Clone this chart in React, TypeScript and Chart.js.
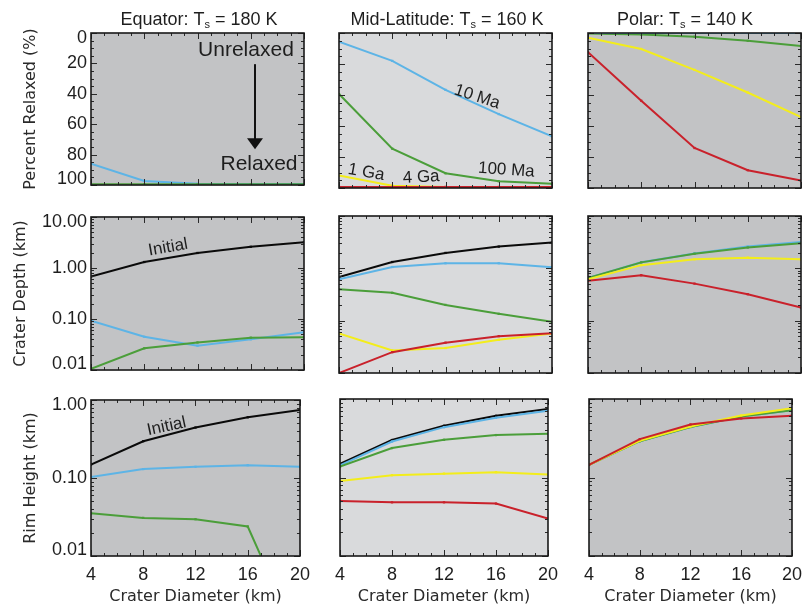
import React, { useEffect, useRef } from "react";
import { Chart, registerables } from "chart.js";

Chart.register(...registerables);

// ---------------- data ----------------
const diameters = [4, 8, 12, 16, 20];
const diameterTicks = [4, 8, 12, 16, 20];
const percentTicks = [0, 20, 40, 60, 80, 100];
const depthTicks = [0.01, 0.1, 1, 10];
const rimTicks = [0.01, 0.1, 1];

const columnNames = ["Equator", "Mid-Latitude", "Polar"];
const surfaceTemps = [180, 160, 140];
const rowTitles = ["Percent Relaxed (%)", "Crater Depth (km)", "Rim Height (km)"];
const xTitle = "Crater Diameter (km)";

// Percent relaxed
const eqPctBlue = [86, 97.3, 99.2, 99.4, 99.4];
const eqPctGreen = [99.5, 99.5, 99.5, 99.5, 99.5];
const eqPctYellow = [100, 100, 100, 100, 100];
const eqPctRed = [100, 100, 100, 100, 100];

const mlPctBlue = [5.6, 18, 36.7, 52.3, 66.7];
const mlPctGreen = [39.4, 74.6, 90.5, 95.6, 97.3];
const mlPctYellow = [92, 98.5, 99.4, 99.4, 99.4];
const mlPctRed = [99.3, 99.3, 99.3, 99.3, 99.3];

const plPctBlue = [0, 0, 0, 0, 0];
const plPctGreen = [0.3, 1, 2.4, 5, 8.4];
const plPctYellow = [3, 10.3, 23.8, 38.4, 54.2];
const plPctRed = [12.4, 43.7, 74.2, 88.5, 95.2];

// Crater depth (km)
const eqDepthBlack = [0.68, 1.31, 1.97, 2.6, 3.19];
const eqDepthBlue = [0.093, 0.045, 0.03, 0.04, 0.055];
const eqDepthGreen = [0.0105, 0.0266, 0.0347, 0.043, 0.0437];

const mlDepthBlack = [0.68, 1.32, 1.97, 2.6, 3.1];
const mlDepthBlue = [0.62, 1.06, 1.25, 1.25, 1.05];
const mlDepthGreen = [0.4, 0.34, 0.2, 0.135, 0.095];
const mlDepthYellow = [0.057, 0.027, 0.03, 0.043, 0.057];
const mlDepthRed = [0.01, 0.025, 0.038, 0.0506, 0.0575];

const plDepthBlue = [0.65, 1.31, 1.93, 2.6, 3.2];
const plDepthGreen = [0.65, 1.3, 1.9, 2.5, 3.0];
const plDepthYellow = [0.62, 1.15, 1.49, 1.6, 1.49];
const plDepthRed = [0.58, 0.74, 0.51, 0.32, 0.178];

// Rim height (km)
const eqRimBlack = [0.148, 0.296, 0.443, 0.6, 0.745];
const eqRimBlue = [0.103, 0.13, 0.139, 0.146, 0.139];
const eqRimGreen = [0.0353, 0.0308, 0.0296, 0.0239, 0.00075];

const mlRimBlack = [0.149, 0.3, 0.456, 0.61, 0.745];
const mlRimBlue = [0.143, 0.287, 0.438, 0.577, 0.71];
const mlRimGreen = [0.138, 0.237, 0.302, 0.347, 0.36];
const mlRimYellow = [0.0905, 0.107, 0.112, 0.117, 0.109];
const mlRimRed = [0.0502, 0.0483, 0.0483, 0.0465, 0.0299];

const plRimBlue = [0.145, 0.29, 0.44, 0.6, 0.72];
const plRimGreen = [0.145, 0.29, 0.44, 0.6, 0.72];
const plRimYellow = [0.145, 0.294, 0.447, 0.617, 0.76];
const plRimRed = [0.145, 0.308, 0.474, 0.565, 0.612];

// ---------------- style ----------------
type Key = "black" | "blue" | "green" | "yellow" | "red";
const COLORS: Record<Key, string> = {
  black: "#0a0a0a",
  blue: "#5db4e6",
  green: "#4b9e3a",
  yellow: "#f3ed1b",
  red: "#c9212b",
};
const BG = ["#c2c3c5", "#d9dadc", "#c2c3c5"];
const TEXT = "#1e1e1e";
const SANS = "'Liberation Sans', Arial, Helvetica, sans-serif";
const TITLE_FONT = "'DejaVu Sans', sans-serif";

const COL_LEFT = [91, 339, 588];
const PLOT_W = 213;
const ROW_TOP = [33, 216, 399];
const ROW_H = [155, 157, 157];
const TITLE_CX = [199, 447, 685];
const Y_TITLE_PAD = [21.4, 11.4, 21.4];

type Note = { text: string; x: number; y: number; rot: number; size: number };
type Arrow = { x: number; y1: number; y2: number };
type PanelSpec = {
  row: number;
  col: number;
  series: [Key, number[]][];
  notes?: Note[];
  arrows?: Arrow[];
};

const panels: PanelSpec[] = [
  {
    row: 0, col: 0,
    series: [["green", eqPctGreen], ["blue", eqPctBlue], ["yellow", eqPctYellow], ["red", eqPctRed]],
    notes: [
      { text: "Unrelaxed", x: 15.64, y: 11, rot: 0, size: 21 },
      { text: "Relaxed", x: 16.62, y: 86.5, rot: 0, size: 21 },
    ],
    arrows: [{ x: 16.32, y1: 20.5, y2: 76.5 }],
  },
  {
    row: 0, col: 1,
    series: [["red", mlPctRed], ["yellow", mlPctYellow], ["green", mlPctGreen], ["blue", mlPctBlue]],
    notes: [
      { text: "10 Ma", x: 14.37, y: 41.2, rot: 18, size: 17 },
      { text: "100 Ma", x: 16.57, y: 88.4, rot: 4, size: 17 },
      { text: "1 Ga", x: 6.05, y: 89.9, rot: 10, size: 17 },
      { text: "4 Ga", x: 10.17, y: 93.1, rot: -3, size: 17 },
    ],
  },
  {
    row: 0, col: 2,
    series: [["red", plPctRed], ["yellow", plPctYellow], ["blue", plPctBlue], ["green", plPctGreen]],
  },
  {
    row: 1, col: 0,
    series: [["green", eqDepthGreen], ["blue", eqDepthBlue], ["black", eqDepthBlack]],
    notes: [{ text: "Initial", x: 9.79, y: 2.52, rot: -10, size: 17 }],
  },
  {
    row: 1, col: 1,
    series: [["red", mlDepthRed], ["yellow", mlDepthYellow], ["green", mlDepthGreen], ["blue", mlDepthBlue], ["black", mlDepthBlack]],
  },
  {
    row: 1, col: 2,
    series: [["red", plDepthRed], ["yellow", plDepthYellow], ["green", plDepthGreen], ["blue", plDepthBlue]],
  },
  {
    row: 2, col: 0,
    series: [["green", eqRimGreen], ["blue", eqRimBlue], ["black", eqRimBlack]],
    notes: [{ text: "Initial", x: 9.79, y: 0.457, rot: -12, size: 17 }],
  },
  {
    row: 2, col: 1,
    series: [["red", mlRimRed], ["yellow", mlRimYellow], ["green", mlRimGreen], ["blue", mlRimBlue], ["black", mlRimBlack]],
  },
  {
    row: 2, col: 2,
    series: [["red", plRimRed], ["yellow", plRimYellow], ["green", plRimGreen], ["blue", plRimBlue]],
  },
];

// ---------------- helpers ----------------
function boxFor(p: PanelSpec) {
  const L = p.col === 0 ? COL_LEFT[0] : 12;
  const R = p.col === 2 ? 9 : 14;
  const T = p.row === 0 ? ROW_TOP[0] : 14;
  const B = p.row === 2 ? 609 - (ROW_TOP[2] + ROW_H[2]) : 12;
  const left = COL_LEFT[p.col] - L;
  const top = ROW_TOP[p.row] - T;
  return { L, R, T, B, left, top, width: L + PLOT_W + R, height: T + ROW_H[p.row] + B };
}

function yMinor(row: number): [number, boolean][] {
  const out: [number, boolean][] = [];
  if (row === 0) {
    for (let v = 0; v <= 100; v += 5) out.push([v, v % 20 === 0]);
  } else {
    const max = row === 1 ? 10 : 1;
    for (let d = 0.01; d <= max * 1.0001; d *= 10) {
      for (let k = 1; k <= 9; k++) {
        const v = k * d;
        if (v <= max * 1.0001) out.push([v, k === 1]);
      }
    }
  }
  return out;
}

function makePlugin(p: PanelSpec, box: ReturnType<typeof boxFor>) {
  return {
    id: "panelDecor",
    beforeDraw(chart: any) {
      const { ctx, chartArea: a } = chart;
      ctx.save();
      ctx.fillStyle = BG[p.col];
      ctx.fillRect(a.left, a.top, a.right - a.left, a.bottom - a.top);
      ctx.restore();
    },
    afterDatasetsDraw(chart: any) {
      const { ctx, chartArea: a, scales } = chart;
      const xs = scales.x;
      const ys = scales.y;
      ctx.save();
      // inward tick marks on all four sides
      ctx.strokeStyle = "#2a2a2a";
      ctx.lineWidth = 1;
      ctx.beginPath();
      for (let v = 4; v <= 20; v += 1) {
        const px = Math.round(xs.getPixelForValue(v)) + 0.5;
        const len = v % 4 === 0 ? 6 : 3;
        ctx.moveTo(px, a.bottom);
        ctx.lineTo(px, a.bottom - len);
        ctx.moveTo(px, a.top);
        ctx.lineTo(px, a.top + len);
      }
      for (const [v, major] of yMinor(p.row)) {
        const py = Math.round(ys.getPixelForValue(v)) + 0.5;
        const len = major ? 6 : 3;
        ctx.moveTo(a.left, py);
        ctx.lineTo(a.left + len, py);
        ctx.moveTo(a.right, py);
        ctx.lineTo(a.right - len, py);
      }
      ctx.stroke();
      // frame
      ctx.lineWidth = 1.6;
      ctx.strokeStyle = "#1a1a1a";
      ctx.strokeRect(a.left, a.top, a.right - a.left, a.bottom - a.top);

      // notes
      ctx.fillStyle = TEXT;
      ctx.textAlign = "center";
      ctx.textBaseline = "middle";
      for (const n of p.notes || []) {
        ctx.save();
        ctx.translate(xs.getPixelForValue(n.x), ys.getPixelForValue(n.y));
        ctx.rotate((n.rot * Math.PI) / 180);
        ctx.font = `${n.size}px ${SANS}`;
        ctx.fillText(n.text, 0, 0);
        ctx.restore();
      }
      // arrows
      for (const ar of p.arrows || []) {
        const x = xs.getPixelForValue(ar.x);
        const y1 = ys.getPixelForValue(ar.y1);
        const y2 = ys.getPixelForValue(ar.y2);
        ctx.strokeStyle = "#111";
        ctx.lineWidth = 2;
        ctx.beginPath();
        ctx.moveTo(x, y1);
        ctx.lineTo(x, y2 - 8);
        ctx.stroke();
        ctx.fillStyle = "#111";
        ctx.beginPath();
        ctx.moveTo(x, y2);
        ctx.lineTo(x - 8, y2 - 11);
        ctx.lineTo(x + 8, y2 - 11);
        ctx.closePath();
        ctx.fill();
      }

      // column title (top row only)
      if (p.row === 0) {
        const main = `${columnNames[p.col]}: T`;
        const sub = "s";
        const rest = ` = ${surfaceTemps[p.col]} K`;
        const bigFont = `18px ${SANS}`;
        const smallFont = `11px ${SANS}`;
        ctx.font = bigFont;
        const w1 = ctx.measureText(main).width;
        const w3 = ctx.measureText(rest).width;
        ctx.font = smallFont;
        const w2 = ctx.measureText(sub).width;
        const total = w1 + w2 + w3;
        let x = TITLE_CX[p.col] - box.left - total / 2;
        const base = 25;
        ctx.fillStyle = TEXT;
        ctx.textAlign = "left";
        ctx.textBaseline = "alphabetic";
        ctx.font = bigFont;
        ctx.fillText(main, x, base);
        x += w1;
        ctx.font = smallFont;
        ctx.fillText(sub, x, base + 3);
        x += w2;
        ctx.font = bigFont;
        ctx.fillText(rest, x, base);
      }
      ctx.restore();
    },
  };
}

function PanelChart({ p }: { p: PanelSpec }) {
  const ref = useRef<HTMLCanvasElement | null>(null);
  const box = boxFor(p);

  useEffect(() => {
    if (!ref.current) return;
    const datasets = p.series.map(([key, vals]) => ({
      label: key,
      data: diameters.map((d, i) => ({ x: d, y: vals[i] })),
      borderColor: COLORS[key],
      backgroundColor: COLORS[key],
      borderWidth: 2,
      pointRadius: 1.6,
      pointStyle: "rect" as const,
      pointBorderWidth: 0,
      pointBackgroundColor: COLORS[key],
      tension: 0,
      fill: false,
    }));

    const tickFont = { family: SANS, size: 18 };
    const yTickFont = { family: SANS, size: 18, lineHeight: 0.61 };
    const titleFont = { family: TITLE_FONT, size: 16 };

    let yScale: any;
    let topVal: number;
    let bottomVal: number;
    let fmt: (v: number) => string;
    if (p.row === 0) {
      topVal = 0;
      bottomVal = 100;
      fmt = (v) => String(v);
      yScale = {
        type: "linear",
        reverse: true,
        min: 0,
        max: 100,
        afterBuildTicks: (s: any) => {
          s.ticks = percentTicks.map((v) => ({ value: v }));
        },
      };
    } else {
      const t = p.row === 1 ? depthTicks : rimTicks;
      topVal = t[t.length - 1];
      bottomVal = t[0];
      fmt = (v) => Number(v).toFixed(2);
      yScale = {
        type: "logarithmic",
        min: 0.01,
        max: p.row === 1 ? 10 : 1,
        afterBuildTicks: (s: any) => {
          s.ticks = t.map((v) => ({ value: v }));
        },
      };
    }
    yScale.ticks = {
      display: p.col === 0,
      font: yTickFont,
      color: TEXT,
      padding: 4,
      // edge labels are nudged inside the frame, as in the original
      callback: (v: any) => {
        const s = fmt(Number(v));
        if (Math.abs(Number(v) - topVal) < 1e-9) return ["", s];
        if (Math.abs(Number(v) - bottomVal) < 1e-9) return [s, ""];
        return s;
      },
    };
    yScale.grid = { display: false, drawTicks: false };
    yScale.border = { display: false };
    yScale.title = {
      display: p.col === 0,
      text: rowTitles[p.row],
      font: titleFont,
      color: "#2a2a2a",
      padding: { top: Y_TITLE_PAD[p.row], bottom: 0 },
    };
    yScale.afterFit = (s: any) => {
      s.width = box.L;
    };

    const xScale: any = {
      type: "linear",
      min: 4,
      max: 20,
      afterBuildTicks: (s: any) => {
        s.ticks = diameterTicks.map((v) => ({ value: v }));
      },
      ticks: { display: p.row === 2, font: tickFont, color: TEXT, padding: 8 },
      grid: { display: false, drawTicks: false },
      border: { display: false },
      title: {
        display: p.row === 2,
        text: xTitle,
        font: titleFont,
        color: "#2a2a2a",
        padding: { top: 0, bottom: 3 },
      },
      afterFit: (s: any) => {
        s.height = box.B;
      },
    };

    const chart = new Chart(ref.current, {
      type: "line",
      data: { datasets },
      options: {
        responsive: false,
        animation: false,
        events: [],
        layout: {
          autoPadding: false,
          padding: { top: box.T, right: box.R, left: 0, bottom: 0 },
        } as any,
        plugins: { legend: { display: false }, tooltip: { enabled: false } },
        scales: { x: xScale, y: yScale },
      },
      plugins: [makePlugin(p, box) as any],
    });
    return () => chart.destroy();
  }, []);

  return (
    <canvas
      ref={ref}
      width={box.width}
      height={box.height}
      style={{
        position: "absolute",
        left: box.left,
        top: box.top,
        width: box.width,
        height: box.height,
      }}
    />
  );
}

export default function App() {
  return (
    <div
      style={{
        position: "absolute",
        left: 0,
        top: 0,
        width: 811,
        height: 609,
        overflow: "hidden",
        background: "#ffffff",
      }}
    >
      {panels.map((p, i) => (
        <PanelChart key={i} p={p} />
      ))}
    </div>
  );
}
